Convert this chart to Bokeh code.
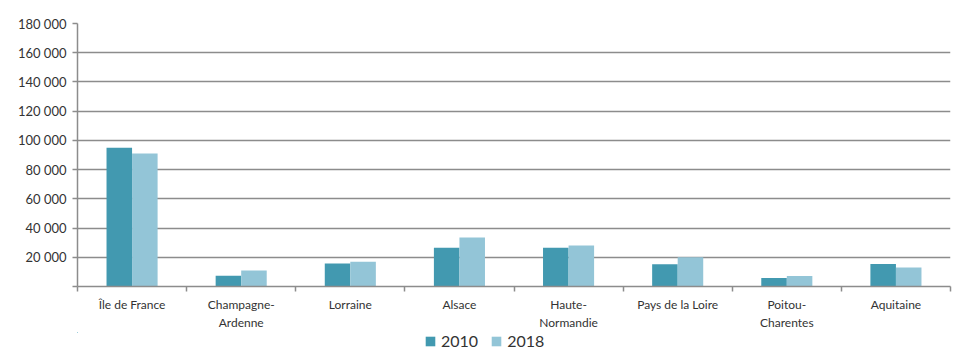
from bokeh.plotting import figure
from bokeh.models import (ColumnDataSource, Range1d, FixedTicker, CustomJSTickFormatter,
                          Legend, LegendItem, LinearAxis)
from bokeh.layouts import column
from bokeh.embed import file_html
from bokeh.resources import INLINE

regions = ["Île de France", "Champagne-\nArdenne", "Lorraine", "Alsace", "Haute-\nNormandie",
           "Pays de la Loire", "Poitou-\nCharentes", "Aquitaine"]
values_2010 = [95000, 7400, 15700, 26500, 26500, 15200, 5800, 15400]
values_2018 = [91000, 11000, 17000, 33500, 28000, 20000, 7200, 13000]
y_ticks = [0, 20000, 40000, 60000, 80000, 100000, 120000, 140000, 160000, 180000]

C2010 = "#4299b0"
C2018 = "#93c5d7"
GRID = "#8c8c8c"
FONT = "Lato"
TXT = "#333333"

n = len(regions)
bw = 0.234
pos = [i + 0.5 for i in range(n)]
src = ColumnDataSource(dict(
    x10=[p_ - bw / 2 for p_ in pos],
    x18=[p_ + bw / 2 for p_ in pos],
    v10=values_2010, v18=values_2018))

p = figure(width=968, height=332, output_backend="svg", toolbar_location=None,
           x_range=Range1d(0, n), y_range=Range1d(0, 180000),
           x_axis_location=None, y_axis_location=None,
           min_border_left=77, min_border_right=18, min_border_top=23, min_border_bottom=0)
p.outline_line_color = None
p.background_fill_color = "white"

p.vbar(x="x10", top="v10", width=bw, source=src, fill_color=C2010, line_color=None)
p.vbar(x="x18", top="v18", width=bw, source=src, fill_color=C2018, line_color=None)

yaxis = LinearAxis(ticker=FixedTicker(ticks=y_ticks),
                   formatter=CustomJSTickFormatter(code="""
                       if (tick == 0) return "";
                       return String(Math.round(tick)).replace(/\\B(?=(\\d{3})+(?!\\d))/g, " ");
                   """))
yaxis.axis_line_color = GRID
yaxis.axis_line_width = 1.5
yaxis.major_tick_line_color = GRID
yaxis.major_tick_line_width = 1.5
yaxis.major_tick_in = 0
yaxis.major_tick_out = 5
yaxis.minor_tick_line_color = None
yaxis.major_label_text_font = FONT
yaxis.major_label_text_font_size = "13px"
yaxis.major_label_text_color = TXT
yaxis.major_label_standoff = 6
p.add_layout(yaxis, "left")

xaxis = LinearAxis(ticker=FixedTicker(ticks=pos, minor_ticks=list(range(n + 1))),
                   formatter=CustomJSTickFormatter(args=dict(labels=regions),
                                                   code="return labels[Math.floor(tick)];"))
xaxis.axis_line_color = GRID
xaxis.axis_line_width = 1.5
xaxis.major_tick_line_color = None
xaxis.major_tick_in = 0
xaxis.major_tick_out = 0
xaxis.minor_tick_line_color = GRID
xaxis.minor_tick_line_width = 1.5
xaxis.minor_tick_in = 0
xaxis.minor_tick_out = 5
xaxis.major_label_text_font = FONT
xaxis.major_label_text_font_size = "12px"
xaxis.major_label_text_color = TXT
xaxis.major_label_standoff = 5
p.add_layout(xaxis, "below")

p.ygrid.ticker = FixedTicker(ticks=y_ticks)
p.ygrid.grid_line_color = GRID
p.ygrid.grid_line_width = 1.5
p.xgrid.visible = False

# legend strip below the chart (its own small figure; its bars fall outside its ranges)
lg = figure(width=968, height=18, output_backend="svg", toolbar_location=None,
            x_range=Range1d(100, 101), y_range=Range1d(-20, -10),
            x_axis_location=None, y_axis_location=None,
            min_border_left=0, min_border_right=0, min_border_top=0, min_border_bottom=0)
lg.outline_line_color = None
lg.grid.visible = False
l10 = lg.vbar(x="x10", top="v10", width=bw, source=src, fill_color=C2010, line_color=None)
l18 = lg.vbar(x="x18", top="v18", width=bw, source=src, fill_color=C2018, line_color=None)

legend = Legend(items=[LegendItem(label="2010", renderers=[l10]),
                       LegendItem(label="2018", renderers=[l18])],
                orientation="horizontal", location=(347, 0),
                label_text_font=FONT, label_text_font_size="16px", label_text_color=TXT,
                label_height=12, glyph_width=12, glyph_height=12, spacing=12, padding=0,
                margin=0, label_standoff=5, border_line_color=None, background_fill_alpha=0)
lg.add_layout(legend, "center")

layout = column(p, lg, spacing=0)
open("out.html", "w").write(file_html(layout, INLINE))
